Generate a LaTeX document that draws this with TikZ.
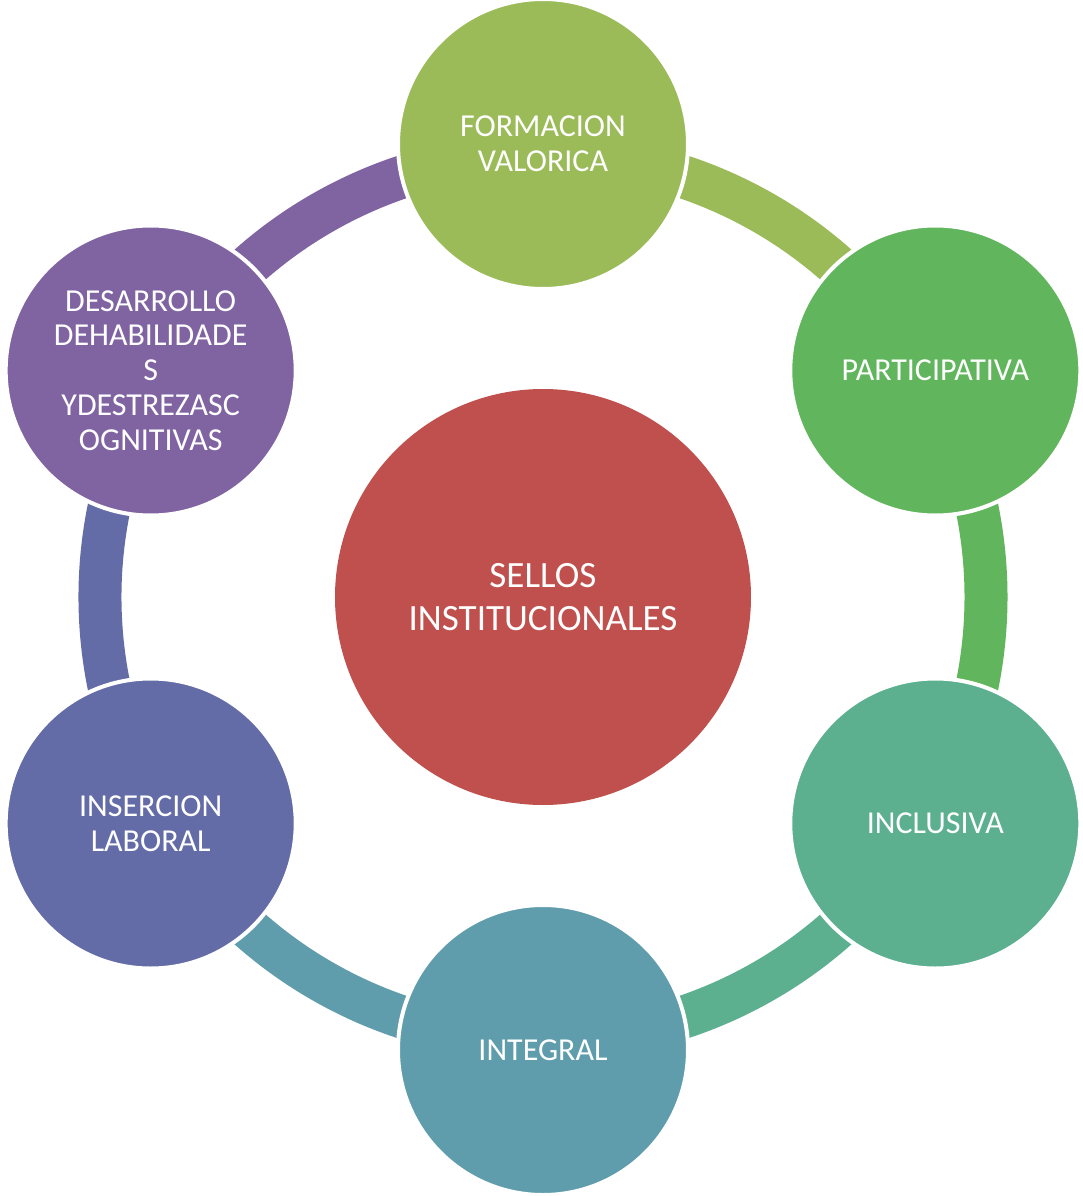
\documentclass[tikz,border=0pt]{standalone}
\usepackage{fontspec}
\setmainfont{Carlito}
\usepackage{xcolor}
\definecolor{olivo}{RGB}{155, 187, 89}
\definecolor{verde}{RGB}{97, 181, 92}
\definecolor{verdeagua}{RGB}{93, 176, 143}
\definecolor{azulverde}{RGB}{95, 157, 172}
\definecolor{azul}{RGB}{99, 108, 167}
\definecolor{morado}{RGB}{128, 100, 162}
\definecolor{rojo}{RGB}{192, 80, 77}
\usepackage{tikz}
\usetikzlibrary{positioning,calc,backgrounds}

\begin{document}
\begin{tikzpicture}[every node/.style={text=white, align=center, inner sep=0pt},
    sello/.style={circle, draw=white, line width=0.08cm, minimum size=5.8cm, font=\fontsize{18.2}{19.8}\selectfont},
    arco/.style={line width=0.86cm}]
    \useasboundingbox (-10.86,-11.98) rectangle (10.80,11.94);

    % Center
    \node[circle, fill=rojo, minimum size=8.32cm, font=\fontsize{21.1}{24.2}\selectfont] (centro) at (0,0) {SELLOS\\INSTITUCIONALES};

    % Outer ring
    \node[sello, fill=olivo] (formacion) at (90:9.06) {FORMACION\\VALORICA};
    \node[sello, fill=verde] (participativa) at (30:9.06) {PARTICIPATIVA};
    \node[sello, fill=verdeagua] (inclusiva) at (-30:9.06) {INCLUSIVA};
    \node[sello, fill=azulverde] (integral) at (-90:9.06) {INTEGRAL};
    \node[sello, fill=azul] (insercion) at (210:9.06) {INSERCION\\LABORAL};
    \node[sello, fill=morado] (desarrollo) at (150:9.06) {DESARROLLO\\DEHABILIDADE\\S\\YDESTREZASC\\OGNITIVAS};

    % Connecting arcs (behind the circles)
    \begin{pgfonlayer}{background}
    \fill[white] (-10.86,-11.98) rectangle (10.80,11.94);
    \draw[arco, color=olivo] ($(centro)!.978!(formacion)$) arc[start angle=90, end angle=30, radius=8.86];
    \draw[arco, color=verde] ($(centro)!.978!(participativa)$) arc[start angle=30, end angle=-30, radius=8.86];
    \draw[arco, color=verdeagua] ($(centro)!.978!(inclusiva)$) arc[start angle=-30, end angle=-90, radius=8.86];
    \draw[arco, color=azulverde] ($(centro)!.978!(integral)$) arc[start angle=-90, end angle=-150, radius=8.86];
    \draw[arco, color=azul] ($(centro)!.978!(insercion)$) arc[start angle=210, end angle=150, radius=8.86];
    \draw[arco, color=morado] ($(centro)!.978!(desarrollo)$) arc[start angle=150, end angle=90, radius=8.86];
    \end{pgfonlayer}
\end{tikzpicture}
\end{document}
